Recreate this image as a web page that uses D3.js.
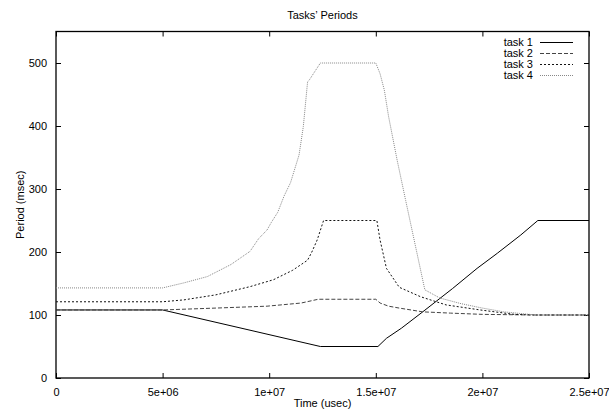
<!DOCTYPE html>
<html>
<head>
<meta charset="utf-8">
<script src="https://cdn.jsdelivr.net/npm/d3@7"></script>
<style>
  body { margin: 0; background: #fff; }
  text { font-family: "Liberation Sans", Arial, sans-serif; font-size: 11px; fill: #000; }
</style>
</head>
<body>
<svg id="chart"></svg>
<script>
// time in usec, period in msec
const task1Time = [0, 5.0e6, 12.4e6, 15.1e6, 15.5e6, 16.2e6, 17.2e6, 18.6e6, 19.75e6, 20.7e6, 21.8e6, 22.6e6, 25.0e6];
const task1Val  = [108, 108, 50, 50, 63, 79, 105, 142, 174, 198, 227, 250, 250];

const task2Time = [0, 5.0e6, 7.5e6, 9.9e6, 11.5e6, 12.3e6, 15.0e6, 15.2e6, 15.6e6, 16.1e6, 17.2e6, 18.5e6, 20.0e6, 22.5e6, 25.0e6];
const task2Val  = [108, 108, 111, 114, 119, 125, 125, 119, 114, 111, 105, 103, 101, 100, 100];

const task3Time = [0, 5.0e6, 6.0e6, 7.5e6, 9.1e6, 10.2e6, 11.1e6, 11.8e6, 12.0e6, 12.25e6, 12.55e6, 15.05e6, 15.2e6, 15.5e6, 16.1e6, 17.1e6, 18.3e6, 19.9e6, 21.5e6, 22.5e6, 25.0e6];
const task3Val  = [121, 121, 124, 132, 145, 156, 171, 187, 200, 219, 250, 250, 219, 174, 144, 129, 116, 108, 101, 100, 100];

const task4Time = [0, 5.0e6, 6.0e6, 7.1e6, 8.2e6, 9.1e6, 9.5e6, 9.9e6, 10.1e6, 10.4e6, 10.7e6, 11.0e6, 11.4e6, 11.6e6, 11.8e6, 11.9e6, 12.4e6, 15.0e6, 15.2e6, 15.4e6, 15.6e6, 16.0e6, 16.4e6, 17.3e6, 18.0e6, 19.0e6, 20.0e6, 21.0e6, 22.5e6, 25.0e6];
const task4Val  = [143, 143, 151, 161, 180, 201, 221, 235, 247, 263, 289, 310, 354, 399, 470, 474, 500, 500, 483, 457, 415, 346, 282, 140, 127, 118, 111, 105, 100, 100];

const taskNames = ["task 1", "task 2", "task 3", "task 4"];
const xTicks = [0, 5e6, 1e7, 1.5e7, 2e7, 2.5e7];
const xTickLabels = ["0", "5e+06", "1e+07", "1.5e+07", "2e+07", "2.5e+07"];
const yTicks = [0, 100, 200, 300, 400, 500];

const width = 609, height = 414;
const margin = {top: 31.5, right: 20, bottom: 36, left: 56};
const innerwidth = width - margin.left - margin.right;
const innerheight = height - margin.top - margin.bottom;

const svg = d3.select("#chart")
    .attr("width", width)
    .attr("height", height);

const g = svg.append("g")
    .attr("transform", "translate(" + margin.left + "," + margin.top + ")");

const x = d3.scaleLinear().domain([0, 2.5e7]).range([0, innerwidth]);
const y = d3.scaleLinear().domain([0, 550]).range([innerheight, 0]);

// axes, ticks pointing inward on all four sides
g.append("g")
    .attr("transform", "translate(0," + innerheight + ")")
    .call(d3.axisBottom(x).tickValues(xTicks)
        .tickFormat((d, i) => xTickLabels[i])
        .tickSizeInner(-5).tickSizeOuter(0).tickPadding(10));

g.append("g")
    .call(d3.axisTop(x).tickValues(xTicks).tickFormat("")
        .tickSizeInner(-5).tickSizeOuter(0));

g.append("g")
    .call(d3.axisLeft(y).tickValues(yTicks)
        .tickSizeInner(-5).tickSizeOuter(0).tickPadding(9));

g.append("g")
    .attr("transform", "translate(" + innerwidth + ",0)")
    .call(d3.axisRight(y).tickValues(yTicks).tickFormat("")
        .tickSizeInner(-5).tickSizeOuter(0));

g.selectAll(".domain").remove();
g.selectAll(".tick line").attr("stroke", "#000");
g.selectAll(".tick text").style("font-size", "11px").attr("fill", "#000");

g.append("rect")
    .attr("width", innerwidth)
    .attr("height", innerheight)
    .attr("fill", "none")
    .attr("stroke", "#000")
    .attr("stroke-width", 1.3);

// series
const series = [
    {name: taskNames[0], t: task1Time, v: task1Val, color: "#000", dash: null},
    {name: taskNames[1], t: task2Time, v: task2Val, color: "#444", dash: "4,2"},
    {name: taskNames[2], t: task3Time, v: task3Val, color: "#111", dash: "2,2"},
    {name: taskNames[3], t: task4Time, v: task4Val, color: "#888", dash: "1,1"}
];

const line = d3.line()
    .x(d => x(d[0]))
    .y(d => y(d[1]));

series.forEach(s => {
    g.append("path")
        .datum(s.t.map((t, i) => [t, s.v[i]]))
        .attr("fill", "none")
        .attr("stroke", s.color)
        .attr("stroke-width", 1)
        .attr("stroke-dasharray", s.dash)
        .attr("d", line);
});

// legend
const legend = svg.append("g");
series.forEach((s, i) => {
    let ly = 42.5 + i * 11;
    legend.append("text")
        .attr("x", 533)
        .attr("y", ly)
        .attr("dy", "0.35em")
        .attr("text-anchor", "end")
        .text(s.name);
    legend.append("line")
        .attr("x1", 540).attr("x2", 573)
        .attr("y1", ly).attr("y2", ly)
        .attr("stroke", s.color)
        .attr("stroke-width", 1)
        .attr("stroke-dasharray", s.dash);
});

// titles
svg.append("text")
    .attr("x", margin.left + innerwidth / 2)
    .attr("y", 15)
    .attr("dy", "0.35em")
    .attr("text-anchor", "middle")
    .text("Tasks\u2019 Periods");

svg.append("text")
    .attr("x", margin.left + innerwidth / 2)
    .attr("y", 403)
    .attr("dy", "0.35em")
    .attr("text-anchor", "middle")
    .text("Time (usec)");

svg.append("text")
    .attr("transform", "translate(20," + (margin.top + innerheight / 2) + ")rotate(-90)")
    .attr("dy", "0.35em")
    .attr("text-anchor", "middle")
    .text("Period (msec)");
</script>
</body>
</html>
